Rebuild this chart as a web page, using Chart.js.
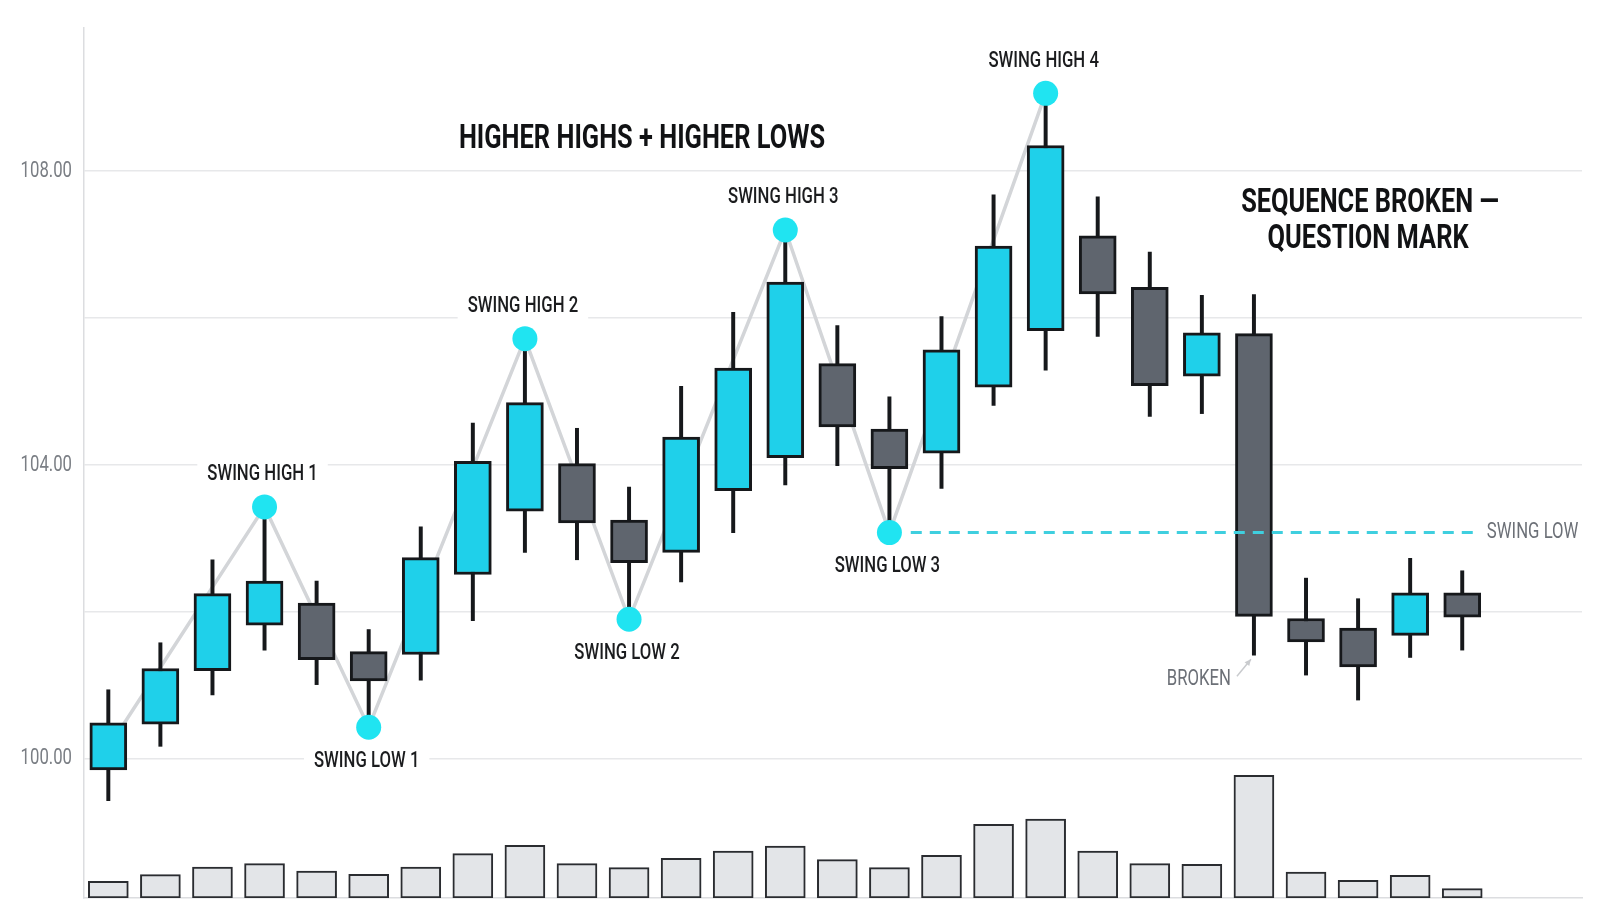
<!DOCTYPE html>
<html>
<head>
<meta charset="utf-8">
<title>Swing highs and lows</title>
<script src="https://cdn.jsdelivr.net/npm/chart.js@4.4.1/dist/chart.umd.min.js"></script>
<style>
  html, body { margin: 0; padding: 0; background: #ffffff; }
  #wrap { width: 1600px; height: 914px; }
</style>
</head>
<body>
<div id="wrap"><canvas id="chart"></canvas></div>
<script>
// Candles, one per bar (bar 1 .. 27)
const opens  = [99.85, 100.47, 101.20, 101.82, 102.12, 101.46, 101.42, 102.51, 103.37, 104.02, 103.25, 102.81, 103.65, 104.10, 105.38, 104.49, 104.16, 105.06, 105.83, 107.12, 106.42, 105.21, 105.79, 101.91, 101.78, 101.68, 102.26];
const highs  = [100.94, 101.58, 102.71, 103.43, 102.42, 101.76, 103.16, 104.57, 105.72, 104.50, 103.70, 105.07, 106.08, 107.20, 105.90, 104.93, 106.02, 107.68, 109.06, 107.65, 106.90, 106.31, 106.32, 102.46, 102.18, 102.73, 102.56];
const lows   = [99.43, 100.17, 100.87, 101.48, 101.01, 100.43, 101.07, 101.88, 102.81, 102.71, 101.90, 102.41, 103.08, 103.73, 103.99, 103.08, 103.68, 104.81, 105.29, 105.75, 104.66, 104.70, 101.41, 101.14, 100.80, 101.38, 101.48];
const closes = [100.49, 101.23, 102.25, 102.42, 101.35, 101.06, 102.74, 104.05, 104.85, 103.21, 102.67, 104.38, 105.32, 106.49, 104.52, 103.95, 105.57, 106.98, 108.35, 106.33, 105.08, 105.80, 101.94, 101.59, 101.25, 102.26, 101.93];
const volumes = [167, 234, 310, 344, 270, 237, 310, 444, 527, 344, 304, 397, 470, 520, 384, 304, 427, 737, 790, 470, 344, 337, 1227, 260, 177, 227, 94];

// Swing points
const swingNames  = ["SWING HIGH 1", "SWING LOW 1", "SWING HIGH 2", "SWING LOW 2", "SWING HIGH 3", "SWING LOW 3", "SWING HIGH 4"];
const swingBars   = [4, 6, 9, 11, 14, 16, 19];
const swingPrices = [103.43, 100.43, 105.72, 101.90, 107.20, 103.08, 109.06];
const trendStartBar = 1;
const trendStartPrice = 100.15;

// Broken swing low level (dashed)
const levelFromBar = 16.41;
const levelToBar = 27.3;
const brokenBar = 23;

// Price axis ticks
const gridPrices  = [100, 102, 104, 106, 108];
const labelPrices = [100, 104, 108];

const priceMin = 98.105, priceMax = 109.95;
const barMin = 0.533, barMax = 29.3;
const volumeMax = 8697;

const BULL = "#1fd0ea";
const BEAR = "#5f656e";
const INK = "#16181b";
const DOT = "#20e4f1";
const NARROW = 0.76;

function squeezed(ctx, text, x, y, o) {
  ctx.save();
  ctx.font = (o.weight || 400) + " " + o.size + "px Roboto, 'Noto Sans', sans-serif";
  const w = ctx.measureText(text).width * o.squeeze;
  const left = o.align === "left" ? x : x - w / 2;
  if (o.bgOnly) {
    ctx.fillStyle = "#ffffff";
    ctx.fillRect(left - o.pad, y - o.size * 0.62, w + o.pad * 2, o.size * 1.24);
    ctx.restore();
    return;
  }
  ctx.translate(left, y);
  ctx.scale(o.squeeze, 1);
  ctx.fillStyle = o.color;
  ctx.textAlign = "left";
  ctx.textBaseline = "middle";
  ctx.fillText(text, 0, 0);
  ctx.restore();
}

function labelSpots(chart) {
  const xs = chart.scales.x, ys = chart.scales.y;
  const spots = [];
  swingNames.forEach((name, i) => {
    const isHigh = name.indexOf("HIGH") >= 0;
    const px = xs.getPixelForValue(swingBars[i]);
    const py = ys.getPixelForValue(swingPrices[i]);
    spots.push({ text: name, x: px - 2, y: py + (isHigh ? -32 : 34), size: 22, weight: 500, squeeze: NARROW, color: "#1b1c1e", pad: 10 });
  });
  const ly = ys.getPixelForValue(swingPrices[5]);
  spots.push({ text: "SWING LOW", x: xs.getPixelForValue(levelToBar) + 9, y: ly, size: 22, squeeze: NARROW, color: "#6c7077", pad: 4, align: "left" });
  const bx = xs.getPixelForValue(brokenBar), by = ys.getPixelForValue(lows[brokenBar - 1]);
  spots.push({ text: "BROKEN", x: bx - 55, y: by + 24, size: 22, squeeze: NARROW, color: "#6c7077", pad: 4 });
  return spots;
}

const annotations = {
  id: "annotations",
  beforeDraw(chart) {
    // condensed look for the price tick labels, squeezed around their right edge
    const ys = chart.scales.y;
    if (!ys._narrowed) {
      const orig = ys.drawLabels;
      ys.drawLabels = function (area) {
        const ctx = this.ctx;
        const edge = this.right - this.options.ticks.padding;
        ctx.save();
        ctx.translate(edge, 0);
        ctx.scale(NARROW, 1);
        ctx.translate(-edge, 0);
        orig.call(this, area);
        ctx.restore();
      };
      ys._narrowed = true;
    }
  },
  beforeDatasetsDraw(chart) {
    const ctx = chart.ctx;
    labelSpots(chart).forEach(s => squeezed(ctx, s.text, s.x, s.y, Object.assign({ bgOnly: true }, s)));
  },
  afterDatasetsDraw(chart) {
    const ctx = chart.ctx;
    labelSpots(chart).forEach(s => squeezed(ctx, s.text, s.x, s.y, s));

    // arrow to the broken candle
    const xs = chart.scales.x, ys = chart.scales.y;
    const bx = xs.getPixelForValue(brokenBar), by = ys.getPixelForValue(lows[brokenBar - 1]);
    const tx = bx - 3, ty = by + 4, fx = bx - 17, fy = by + 21;
    ctx.save();
    ctx.strokeStyle = "#c9cbce";
    ctx.fillStyle = "#c9cbce";
    ctx.lineWidth = 1.5;
    ctx.beginPath();
    ctx.moveTo(fx, fy);
    ctx.lineTo(tx, ty);
    ctx.stroke();
    const a = Math.atan2(ty - fy, tx - fx);
    ctx.beginPath();
    ctx.moveTo(tx, ty);
    ctx.lineTo(tx - 7 * Math.cos(a - 0.45), ty - 7 * Math.sin(a - 0.45));
    ctx.lineTo(tx - 7 * Math.cos(a + 0.45), ty - 7 * Math.sin(a + 0.45));
    ctx.closePath();
    ctx.fill();
    ctx.restore();

    // headlines
    squeezed(ctx, "HIGHER HIGHS + HIGHER LOWS", 642, 140, { size: 33, weight: 700, squeeze: 0.77, color: "#111214" });
    squeezed(ctx, "SEQUENCE BROKEN \u2014", 1370, 204, { size: 33, weight: 700, squeeze: 0.77, color: "#111214" });
    squeezed(ctx, "QUESTION MARK", 1368, 240, { size: 33, weight: 700, squeeze: 0.77, color: "#111214" });
  }
};

const bars = opens.map((o, i) => i + 1);

new Chart(document.getElementById("chart"), {
  type: "bar",
  data: {
    datasets: [
      {
        label: "Volume",
        data: bars.map((b, i) => ({ x: b, y: volumes[i] })),
        yAxisID: "yv",
        backgroundColor: "#e3e5e8",
        borderColor: "#2a2c30",
        borderWidth: 2,
        borderSkipped: false,
        barThickness: 40,
        grouped: false,
        order: 6,
      },
      {
        type: "line",
        label: "Swing path",
        data: [{ x: trendStartBar, y: trendStartPrice }].concat(swingBars.map((b, i) => ({ x: b, y: swingPrices[i] }))),
        borderColor: "#d3d5d8",
        borderWidth: 3.5,
        pointRadius: 0,
        tension: 0,
        order: 5,
      },
      {
        label: "Wicks",
        data: bars.map((b, i) => ({ x: b, y: [lows[i], highs[i]] })),
        backgroundColor: INK,
        borderWidth: 0,
        barThickness: 3.3,
        grouped: false,
        order: 4,
      },
      {
        label: "Bodies",
        data: bars.map((b, i) => ({ x: b, y: [opens[i], closes[i]] })),
        backgroundColor: bars.map((b, i) => (closes[i] >= opens[i] ? BULL : BEAR)),
        borderColor: INK,
        borderWidth: 3,
        borderSkipped: false,
        barThickness: 37,
        grouped: false,
        order: 3,
      },
      {
        type: "line",
        label: "Swing low level",
        data: [{ x: levelFromBar, y: swingPrices[5] }, { x: levelToBar, y: swingPrices[5] }],
        borderColor: "#3fcfdf",
        borderWidth: 3,
        borderDash: [11, 8],
        pointRadius: 0,
        order: 2,
      },
      {
        type: "line",
        label: "Swing points",
        data: swingBars.map((b, i) => ({ x: b, y: swingPrices[i] })),
        showLine: false,
        pointRadius: 12.5,
        pointHoverRadius: 12.5,
        pointBackgroundColor: DOT,
        pointBorderWidth: 0,
        order: 1,
      },
    ],
  },
  options: {
    responsive: true,
    maintainAspectRatio: false,
    animation: false,
    events: [],
    layout: { padding: { left: 0, right: 18, top: 28, bottom: 16 } },
    plugins: {
      legend: { display: false },
      tooltip: { enabled: false },
    },
    scales: {
      x: {
        type: "linear",
        offset: false,
        min: barMin,
        max: barMax,
        ticks: { display: false },
        grid: { display: false, drawTicks: false, offset: false },
        border: { color: "#dcdde0", width: 1.5 },
        afterFit(scale) { scale.height = 0; scale.paddingLeft = 0; scale.paddingRight = 0; },
      },
      y: {
        position: "left",
        min: priceMin,
        max: priceMax,
        afterBuildTicks(scale) { scale.ticks = gridPrices.map(v => ({ value: v })); },
        ticks: {
          callback: (v) => (labelPrices.includes(v) ? v.toFixed(2) : ""),
          color: "#7a7e84",
          padding: 12,
          font: { family: "Roboto, sans-serif", size: 22 },
        },
        grid: { color: "#e7e8ea", lineWidth: 1.5, drawTicks: false },
        border: { color: "#dcdde0", width: 1.5 },
        afterFit(scale) { scale.width = 84; scale.paddingTop = 0; scale.paddingBottom = 0; },
      },
      yv: { display: false, min: 0, max: volumeMax },
    },
  },
  plugins: [annotations],
});
</script>
</body>
</html>
